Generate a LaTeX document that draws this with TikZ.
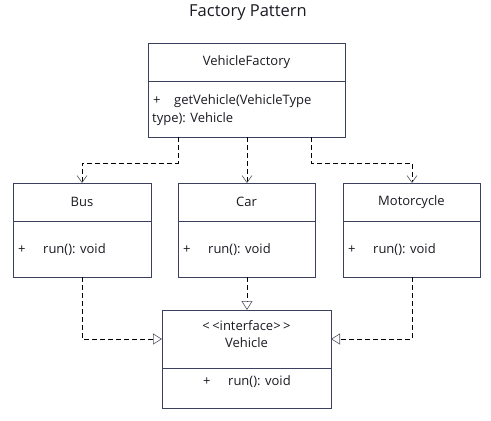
\documentclass[tikz,border=0pt]{standalone}
\usepackage{fontspec}
\setmainfont{Open Sans}
\usetikzlibrary{arrows.meta}
\definecolor{boxc}{HTML}{3C4060}
\definecolor{txt}{HTML}{1A1A22}
\definecolor{tipc}{HTML}{555560}
\begin{document}
\begin{tikzpicture}[x=1pt,y=-1pt,
  box/.style={draw=boxc,line width=0.9pt,fill=white},
  lbl/.style={text=txt,font=\fontsize{13}{15}\selectfont,inner sep=0pt},
  dep/.style={draw=black,line width=0.6pt,dash pattern=on 5pt off 3pt,-{Straight Barb[open,length=7pt,width=10pt,color=tipc,line width=0.6pt]}},
  real/.style={draw=black,line width=0.6pt,dash pattern=on 5pt off 3pt,-{Triangle[open,length=9pt,width=11pt,color=tipc,line width=0.6pt]}}]
\useasboundingbox (0,0) rectangle (491,421);
\node[text=txt,font=\fontsize{16.5}{19}\selectfont] (title) at (248,13) {Factory Pattern};
% VehicleFactory
\draw[box] (148,43) rectangle (345,137);
\draw[draw=boxc,line width=0.9pt] (148,81) -- (345,81);
\node[lbl] (vfname) at (246.5,62) {VehicleFactory};
\node[lbl,anchor=west] (vfp) at (153,101) {+};
\node[lbl,anchor=west] (vfm1) at (174,101) {getVehicle(VehicleType};
\node[lbl,anchor=west] (vfm2) at (152,119) {type): Vehicle};
\coordinate (vfL) at (178,137);
\coordinate (vfC) at (247,137);
\coordinate (vfR) at (311,137);
% Bus
\draw[box] (13,183) rectangle (151,277);
\draw[draw=boxc,line width=0.9pt] (13,221) -- (151,221);
\node[lbl] (busname) at (82,202) {Bus};
\node[lbl,anchor=west] (busp) at (18,250) {+};
\node[lbl,anchor=west] (busm) at (43,250) {run(): void};
\coordinate (busT) at (82,183);
\coordinate (busB) at (82,277);
% Car
\draw[box] (178,183) rectangle (315,277);
\draw[draw=boxc,line width=0.9pt] (178,221) -- (315,221);
\node[lbl] (carname) at (246.5,202) {Car};
\node[lbl,anchor=west] (carp) at (183,250) {+};
\node[lbl,anchor=west] (carm) at (208,250) {run(): void};
\coordinate (carT) at (247,183);
\coordinate (carB) at (247,277);
% Motorcycle
\draw[box] (343,183) rectangle (480,277);
\draw[draw=boxc,line width=0.9pt] (343,221) -- (480,221);
\node[lbl] (motname) at (411.5,202) {Motorcycle};
\node[lbl,anchor=west] (motp) at (348,250) {+};
\node[lbl,anchor=west] (motm) at (373,250) {run(): void};
\coordinate (motT) at (412,183);
\coordinate (motB) at (412,277);
% Vehicle
\draw[box] (162,310) rectangle (331,408);
\draw[draw=boxc,line width=0.9pt] (162,368) -- (331,368);
\node[lbl] (vst) at (246.5,326) {<\kern2.5pt<interface>\kern2.5pt>};
\node[lbl] (vname) at (246.5,343) {Vehicle};
\node[lbl,anchor=west] (vp) at (203,382) {+};
\node[lbl,anchor=west] (vm) at (228,382) {run(): void};
\coordinate (vT) at (247,310);
\coordinate (vL) at (162,339);
\coordinate (vR) at (331,339);
% connectors
\draw[dep] (vfL) |- (178,163) -| (busT);
\draw[dep] (vfC) -- (carT);
\draw[dep] (vfR) |- (311,163) -| (motT);
\draw[real] (busB) |- (vL);
\draw[real] (carB) -- (vT);
\draw[real] (motB) |- (vR);
\end{tikzpicture}
\end{document}
